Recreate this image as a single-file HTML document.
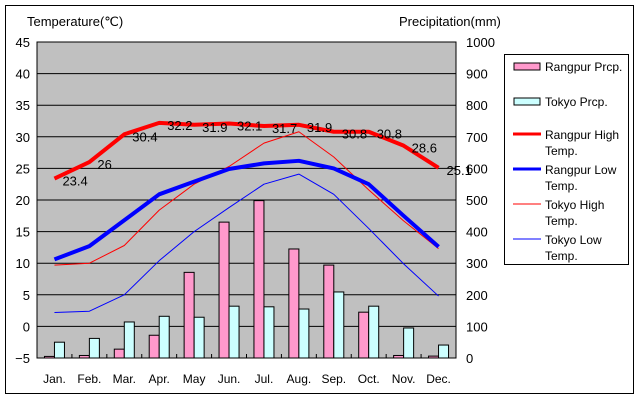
<!DOCTYPE html>
<html><head><meta charset="utf-8"><style>
body{margin:0;background:#fff;}
svg{display:block;font-family:"Liberation Sans",sans-serif;}
</style></head><body>
<svg id="chart" width="640" height="400" xmlns="http://www.w3.org/2000/svg">
<rect x="5.5" y="5.5" width="628" height="388" fill="#fff" stroke="#000"/>
<rect x="37" y="42" width="419" height="316" fill="#c0c0c0" stroke="#000"/>
<g id="grid"></g><g id="bars"></g><g id="lines"></g><g id="labels"></g><g id="axes"></g>
<text x="27" y="26" font-size="13">Temperature(℃)</text>
<text x="399" y="26" font-size="13">Precipitation(mm)</text>
<g>
<rect x="504.5" y="54.5" width="124" height="210" fill="#fff" stroke="#000"/>
<rect x="514" y="63" width="26" height="7" fill="#ff99cc" stroke="#000"/>
<text x="545" y="71" font-size="12">Rangpur Prcp.</text>
<rect x="514" y="98" width="26" height="7" fill="#ccffff" stroke="#000"/>
<text x="545" y="106" font-size="12">Tokyo Prcp.</text>
<line x1="513" y1="134" x2="541" y2="134" stroke="#f00" stroke-width="3"/>
<text x="545" y="139" font-size="12">Rangpur High</text><text x="545" y="155" font-size="12">Temp.</text>
<line x1="513" y1="169" x2="541" y2="169" stroke="#00f" stroke-width="3"/>
<text x="545" y="174" font-size="12">Rangpur Low</text><text x="545" y="190" font-size="12">Temp.</text>
<line x1="513" y1="204" x2="541" y2="204" stroke="#f00" stroke-width="1"/>
<text x="545" y="209" font-size="12">Tokyo High</text><text x="545" y="225" font-size="12">Temp.</text>
<line x1="513" y1="239" x2="541" y2="239" stroke="#00f" stroke-width="1"/>
<text x="545" y="244" font-size="12">Tokyo Low</text><text x="545" y="260" font-size="12">Temp.</text>
</g>
</svg>
<script>
const months=["Jan.","Feb.","Mar.","Apr.","May","Jun.","Jul.","Aug.","Sep.","Oct.","Nov.","Dec."];
const rangpurPrcp=[5,8,28,72,271,430,498,345,294,145,8,6];
const tokyoPrcp=[50,62,114,132,129,164,162,155,209,164,95,41];
const rangpurHigh=[23.4,26,30.4,32.2,31.9,32.1,31.7,31.9,30.8,30.8,28.6,25.1];
const rangpurLow=[10.6,12.7,16.8,20.9,22.9,24.9,25.8,26.2,25.0,22.5,17.5,12.6];
const tokyoHigh=[9.7,10.0,12.8,18.4,22.5,25.3,29.0,30.8,26.8,21.6,16.7,12.3];
const tokyoLow=[2.2,2.4,5.0,10.4,15.0,18.8,22.5,24.1,20.9,15.5,9.9,4.8];
const tempTicks=[-5,0,5,10,15,20,25,30,35,40,45];
const prcpTicks=[0,100,200,300,400,500,600,700,800,900,1000];
const NS="http://www.w3.org/2000/svg";
const L=37,R=456,T=42,B=358,step=(R-L)/12;
const xc=i=>L+step*(i+0.5);
const yT=v=>B-(v+5)/50*(B-T);
const yP=v=>B-v/1000*(B-T);
function mk(tag,attrs,parent,txt){const e=document.createElementNS(NS,tag);for(const k in attrs)e.setAttribute(k,attrs[k]);if(txt!==undefined)e.textContent=txt;document.getElementById(parent).appendChild(e);return e;}
tempTicks.forEach(t=>{
 const y=yT(t);
 if(t>-5&&t<45){const g=mk('line',{x1:L,x2:R,y1:y,y2:y,stroke:'#000'},'grid');
 
 }
 const lb=mk('text',{x:30,y:y+5,'font-size':13,'text-anchor':'end'},'axes',t<0?'\u2212'+(-t):String(t));
 
 
});
prcpTicks.forEach(p=>{
 const lb=mk('text',{x:466,y:yP(p)+5,'font-size':13},'axes',String(p));
 
 
});
months.forEach((m,i)=>{
 if(i>0){const tk=mk('line',{x1:L+step*i,x2:L+step*i,y1:B,y2:B-4,stroke:'#000'},'axes');
 
 }
 const lb=mk('text',{x:xc(i),y:383,'font-size':12,'text-anchor':'middle'},'axes',m);
 
 
 const b1=mk('rect',{x:xc(i)-10,y:yP(rangpurPrcp[i]),width:10,height:B-yP(rangpurPrcp[i]),fill:'#ff99cc',stroke:'#000'},'bars');
 
 
 const b2=mk('rect',{x:xc(i),y:yP(tokyoPrcp[i]),width:10,height:B-yP(tokyoPrcp[i]),fill:'#ccffff',stroke:'#000'},'bars');
 
 
});
function line(arr,color,w,name){
 const pts=arr.map((v,i)=>xc(i)+','+yT(v)).join(' ');
 const p=mk('polyline',{points:pts,fill:'none',stroke:color,'stroke-width':w,'stroke-linejoin':'round'},'lines');
 
 
}
line(tokyoHigh,'#f00',1,'line-tokyo-high');
line(tokyoLow,'#00f',1,'line-tokyo-low');
line(rangpurLow,'#00f',4,'line-rangpur-low');
line(rangpurHigh,'#f00',4,'line-rangpur-high');
rangpurHigh.forEach((v,i)=>{
 const lb=mk('text',{x:xc(i)+8,y:yT(v)+7,'font-size':13},'labels',String(v));
 
 
});
</script>
</body></html>
